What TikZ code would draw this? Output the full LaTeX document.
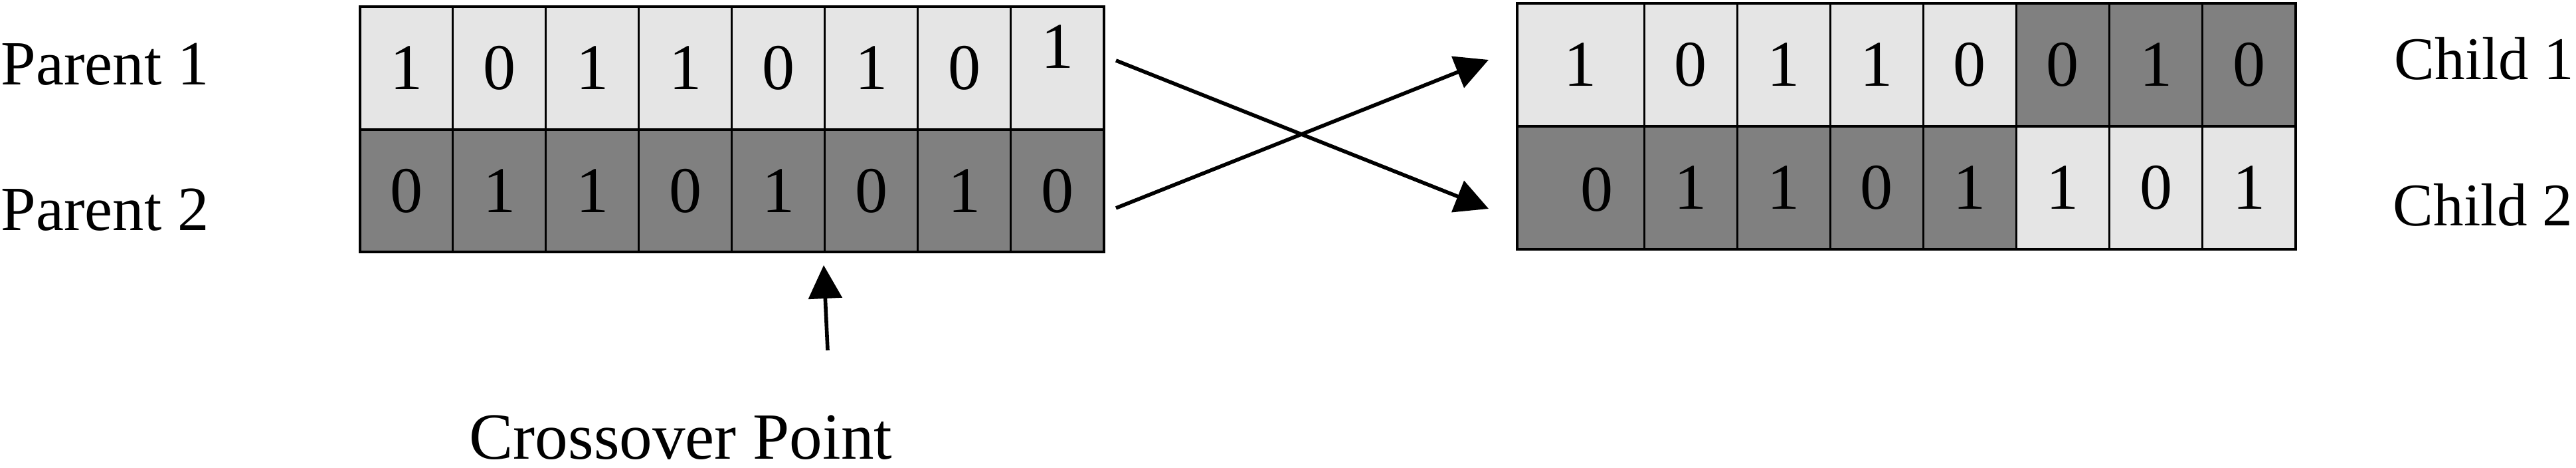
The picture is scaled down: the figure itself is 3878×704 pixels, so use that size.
\documentclass[tikz,border=0pt]{standalone}
\usepackage{fontspec}
\setmainfont{Liberation Serif}
\usetikzlibrary{arrows.meta}
\definecolor{lightcell}{HTML}{E5E5E5}
\definecolor{darkcell}{HTML}{808080}
\begin{document}
\begin{tikzpicture}[x=0.01cm,y=-0.01cm,
  cell/.style={draw=black, line width=0.85pt, minimum height=1.85cm, minimum width=1.40cm, inner sep=0pt, outer sep=0pt, font=\fontsize{27.9}{30}\selectfont, text=black},
  widecell/.style={cell, minimum width=1.91cm},
  lite/.style={cell, fill=lightcell},
  dark/.style={cell, fill=darkcell},
  digit/.style={inner sep=0pt, font=\fontsize{27.9}{30}\selectfont},
  lbl/.style={anchor=base west, inner sep=0pt, font=\fontsize{26.9}{30}\selectfont},
  clbl/.style={anchor=base west, inner sep=0pt, font=\fontsize{25.9}{30}\selectfont},
  arr/.style={line width=1.6pt, -{Triangle[length=0.5cm,width=0.5cm]}},
  frame/.style={draw=black, line width=1.14pt}
]
\useasboundingbox (0,0) rectangle (3878,704);

% labels
\node[lbl] (lp1) at (1,128) {Parent 1};
\node[lbl] (lp2) at (1,347) {Parent 2};
\node[clbl] (lc1) at (3604,120) {Child 1};
\node[clbl] (lc2) at (3602,340) {Child 2};
\node[anchor=base, inner sep=0pt, font=\fontsize{28.2}{30}\selectfont] (cp) at (1025,691) {Crossover Point};

% parent grid
\foreach \b [count=\i] in {1,0,1,1,0,1,0} {
  \node[lite] (pa\i) at ({542+(\i-0.5)*140},102.5) {\b};
}
\node[lite] (pa8) at ({542+7.5*140},102.5) {};
\node[digit] (pa8d) at (1592,70) {1};
\foreach \b [count=\i] in {0,1,1,0,1,0,1,0} {
  \node[dark, minimum height=1.84cm] (pb\i) at ({542+(\i-0.5)*140},287) {\b};
}
\draw[frame] (pa1.north west) rectangle (pb8.south east);
\draw[frame] (pa1.south west) -- (pa8.south east);

% child grid
\node[lite, widecell] (ca1) at (2379.5,97.5) {1};
\foreach \b [count=\i from 2] in {0,1,1,0} {
  \node[lite] (ca\i) at ({2475+(\i-1.5)*140.1},97.5) {\b};
}
\foreach \b [count=\i from 6] in {0,1,0} {
  \node[dark] (ca\i) at ({2475+(\i-1.5)*140.1},97.5) {\b};
}
\node[dark, widecell] (cb1) at (2379.5,282.5) {};
\node[digit] (cb1d) at (2404,285) {0};
\foreach \b [count=\i from 2] in {1,1,0,1} {
  \node[dark] (cb\i) at ({2475+(\i-1.5)*140.1},282.5) {\b};
}
\foreach \b [count=\i from 6] in {1,0,1} {
  \node[lite] (cb\i) at ({2475+(\i-1.5)*140.1},282.5) {\b};
}
\draw[frame] (ca1.north west) rectangle (cb8.south east);
\draw[frame] (ca1.south west) -- (ca8.south east);

% crossing arrows
\coordinate (s1) at (1680,91);
\coordinate (s2) at (1680,313);
\coordinate (e1) at (2241,90);
\coordinate (e2) at (2241,314);
\draw[arr] (s1) -- (e2);
\draw[arr] (s2) -- (e1);

% crossover point arrow
\coordinate (xtail) at (1246,527);
\coordinate (xtip) at (1240,399);
\draw[arr] (xtail) -- (xtip);
\end{tikzpicture}
\end{document}
